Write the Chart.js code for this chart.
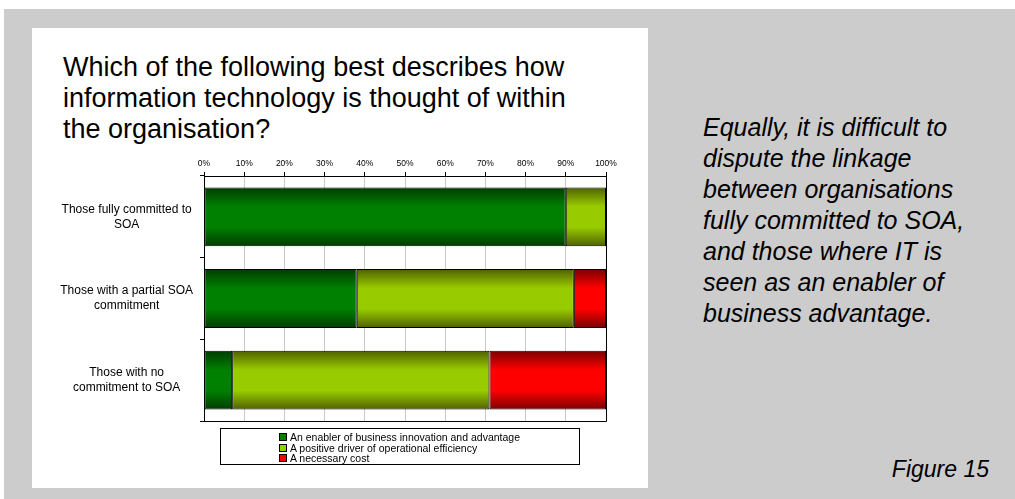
<!DOCTYPE html>
<html>
<head>
<meta charset="utf-8">
<script src="https://cdn.jsdelivr.net/npm/chart.js@4/dist/chart.umd.min.js"></script>
<style>
  body { margin: 0; background: #fff; width: 1015px; height: 499px; overflow: hidden; font-family: "Liberation Sans", Arial, sans-serif; }
  #bg { position: absolute; left: 4px; top: 9px; width: 1011px; height: 490px; background: #cccccc; }
  #panel { position: absolute; left: 32px; top: 28px; width: 616px; height: 460px; background: #fff; }
  #title { position: absolute; left: 63px; top: 52px; font-size: 27px; line-height: 31px; color: #000; white-space: nowrap; }
  #note { position: absolute; left: 703px; top: 112px; font-size: 25px; line-height: 31px; font-style: italic; color: #000; white-space: nowrap; }
  #fig { position: absolute; right: 26px; top: 458px; font-size: 23px; line-height: 23px; font-style: italic; color: #000; }
  #chart { position: absolute; left: 32px; top: 140px; }
  #legend { position: absolute; left: 220px; top: 428px; width: 360px; height: 37px; border: 1px solid #000; box-sizing: border-box; font-size: 10.5px; line-height: 10.5px; padding: 3px 0 0 58px; }
  #legend div { white-space: nowrap; }
  #legend span { display: inline-block; width: 6px; height: 6px; border: 1px solid #000; margin-right: 3px; vertical-align: 0px; }
</style>
</head>
<body>
<div id="bg"></div>
<div id="panel"></div>
<div id="title">Which of the following best describes how<br>information technology is thought of within<br>the organisation?</div>
<div id="note">Equally, it is difficult to<br>dispute the linkage<br>between organisations<br>fully committed to SOA,<br>and those where IT is<br>seen as an enabler of<br>business advantage.</div>
<div id="fig">Figure 15</div>
<canvas id="chart" width="616" height="348"></canvas>
<div id="legend"></div>
<script>
const categories = [
  ["Those fully committed to", "SOA"],
  ["Those with a partial SOA", "commitment"],
  ["Those with no", "commitment to SOA"]
];
const seriesNames = [
  "An enabler of business innovation and advantage",
  "A positive driver of operational efficiency",
  "A necessary cost"
];
const enabler = [90, 38, 7];
const positive = [10, 54, 64];
const necessary = [0, 8, 29];
const tickValues = [0, 10, 20, 30, 40, 50, 60, 70, 80, 90, 100];

const barShare = 0.72;

// vertical gradient per bar: dark edges, bright middle
function shade(dark, bright) {
  return function (ctx) {
    const chart = ctx.chart;
    const area = chart.chartArea;
    const y = chart.scales.y;
    if (!area || !y) return bright;
    const h = area.bottom - area.top;
    const g = chart.ctx.createLinearGradient(0, area.top, 0, area.bottom);
    const half = (h / categories.length) * barShare / 2;
    for (let i = 0; i < categories.length; i++) {
      const c = y.getPixelForValue(i);
      const stops = [[c - half, dark], [c - half * 0.35, bright], [c + half * 0.35, bright], [c + half, dark]];
      for (const s of stops) {
        g.addColorStop(Math.min(1, Math.max(0, (s[0] - area.top) / h)), s[1]);
      }
    }
    return g;
  };
}

const colours = [
  { dark: '#003c00', bright: '#008000', flat: '#008000' },
  { dark: '#4f6000', bright: '#99cc00', flat: '#99cc00' },
  { dark: '#7a0000', bright: '#ff0000', flat: '#ff0000' }
];
const values = [enabler, positive, necessary];

const datasets = values.map(function (v, i) {
  return {
    label: seriesNames[i],
    data: v,
    backgroundColor: shade(colours[i].dark, colours[i].bright),
    borderColor: '#000',
    borderWidth: 1,
    borderSkipped: false,
    barPercentage: barShare,
    categoryPercentage: 1
  };
});

const frame = {
  id: 'frame',
  afterDraw(chart) {
    const a = chart.chartArea;
    const c = chart.ctx;
    c.save();
    c.strokeStyle = '#000';
    c.lineWidth = 1;
    c.beginPath();
    c.moveTo(Math.round(a.right) + 0.5, a.top);
    c.lineTo(Math.round(a.right) + 0.5, a.bottom + 0.5);
    c.lineTo(a.left - 1, Math.round(a.bottom) + 0.5);
    c.stroke();
    c.restore();
  }
};

new Chart(document.getElementById('chart'), {
  type: 'bar',
  data: { labels: categories, datasets: datasets },
  options: {
    indexAxis: 'y',
    responsive: false,
    animation: false,
    devicePixelRatio: 1,
    layout: { padding: { top: 0, right: 42, bottom: 67, left: 0 } },
    plugins: { legend: { display: false }, tooltip: { enabled: false } },
    scales: {
      x: {
        position: 'top',
        stacked: true,
        min: 0,
        max: 100,
        afterFit(s) { s.height = 36; },
        afterBuildTicks(s) { s.ticks = tickValues.map(v => ({ value: v })); },
        ticks: {
          callback: v => v + '%',
          font: { family: 'Liberation Sans', size: 8.5 },
          color: '#000',
          padding: 3,
          maxRotation: 0
        },
        grid: { color: '#c8c8c8', tickColor: '#000', tickLength: 4 },
        border: { color: '#000', width: 1 }
      },
      y: {
        stacked: true,
        afterFit(s) { s.width = 172; },
        ticks: {
          crossAlign: 'center',
          font: { family: 'Liberation Sans', size: 12, lineHeight: 1.25 },
          color: '#000',
          padding: 7
        },
        grid: { offset: true, drawOnChartArea: false, color: '#000', tickLength: 4 },
        border: { color: '#000', width: 1 }
      }
    }
  },
  plugins: [frame]
});

const legend = document.getElementById('legend');
seriesNames.forEach(function (name, i) {
  const row = document.createElement('div');
  const box = document.createElement('span');
  box.style.background = colours[i].flat;
  row.appendChild(box);
  row.appendChild(document.createTextNode(name));
  legend.appendChild(row);
});
</script>
</body>
</html>
